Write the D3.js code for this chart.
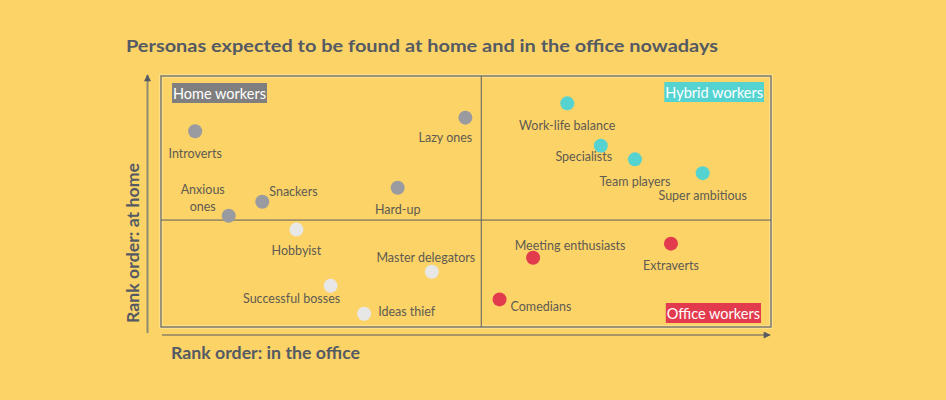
<!DOCTYPE html>
<html>
<head>
<meta charset="utf-8">
<script src="https://cdn.jsdelivr.net/npm/d3@7"></script>
<style>
  body { margin: 0; background: #fcd367; }
  text { font-family: "Segoe UI", Lato, "Open Sans", sans-serif; }
</style>
</head>
<body>
<div id="chart"></div>
<script>
"use strict"

/* DATA
 */
const homeWorkers = [
    {name: "Introverts", x: 5.6, y: 78.0},
    {name: "Lazy ones", x: 49.9, y: 83.4},
    {name: "Anxious ones", x: 11.1, y: 44.3},
    {name: "Snackers", x: 16.6, y: 49.9},
    {name: "Hard-up", x: 38.8, y: 55.5}
];
const hybridWorkers = [
    {name: "Work-life balance", x: 66.6, y: 89.1},
    {name: "Specialists", x: 72.1, y: 72.2},
    {name: "Team players", x: 77.7, y: 66.8},
    {name: "Super ambitious", x: 88.8, y: 61.3}
];
const lowerLeft = [
    {name: "Hobbyist", x: 22.2, y: 38.8},
    {name: "Master delegators", x: 44.4, y: 22.0},
    {name: "Successful bosses", x: 27.8, y: 16.4},
    {name: "Ideas thief", x: 33.3, y: 5.3}
];
const officeWorkers = [
    {name: "Meeting enthusiasts", x: 61.0, y: 27.6},
    {name: "Extraverts", x: 83.6, y: 33.2},
    {name: "Comedians", x: 55.5, y: 11.0}
];
const xDivide = 52.5, yDivide = 42.6;
const quadrantTitles = ["Home workers", "Hybrid workers", "Office workers"];

/* LAYOUT
 */
const W = 946, H = 400;
const box = {left: 161, right: 771, top: 76, bottom: 327};

// label placement relative to the dot: [anchor, dx, dy]
const labelPos = {
    "Introverts": ["middle", 0, 22],
    "Lazy ones": ["middle", -20, 20],
    "Anxious ones": ["middle", -26, -26],
    "Snackers": ["start", 7, -10],
    "Hard-up": ["middle", 0, 21.5],
    "Work-life balance": ["middle", 0, 22],
    "Specialists": ["middle", -17, 11],
    "Team players": ["middle", 0, 22],
    "Super ambitious": ["middle", 0, 22],
    "Hobbyist": ["middle", 0, 21],
    "Master delegators": ["middle", -6, -14],
    "Successful bosses": ["middle", -39, 13],
    "Ideas thief": ["start", 14, -2],
    "Meeting enthusiasts": ["middle", 37, -12],
    "Extraverts": ["middle", 0, 22],
    "Comedians": ["start", 11, 7]
};

const svg = d3.select("#chart").append("svg")
    .attr("width", W).attr("height", H)
    .style("display", "block");

svg.append("rect").attr("width", W).attr("height", H).attr("fill", "#fcd367");

const x = d3.scaleLinear().domain([0, 100]).range([box.left, box.right]);
const y = d3.scaleLinear().domain([0, 100]).range([box.bottom, box.top]);

/* TITLE
 */
svg.append("text")
    .attr("x", 126).attr("y", 45)
    .attr("dominant-baseline", "central")
    .attr("font-size", 17.5).attr("font-weight", "bold")
    .attr("fill", "#545a64")
    .attr("textLength", 592).attr("lengthAdjust", "spacingAndGlyphs")
    .text("Personas expected to be found at home and in the office nowadays");

/* AXES
 */
const defs = svg.append("defs");
defs.append("marker")
    .attr("id", "arrow")
    .attr("viewBox", "0 0 10 10")
    .attr("refX", 9).attr("refY", 5)
    .attr("markerWidth", 9).attr("markerHeight", 7)
    .attr("markerUnits", "userSpaceOnUse")
    .attr("orient", "auto")
  .append("path")
    .attr("d", "M0,0 L10,5 L0,10 z")
    .attr("fill", "#555a63");

svg.append("line")
    .attr("x1", x(0) - 13.5).attr("x2", x(0) - 13.5)
    .attr("y1", y(0) + 6).attr("y2", y(100) - 1)
    .attr("stroke", "#8f8a72").attr("stroke-width", 2)
    .attr("marker-end", "url(#arrow)");

svg.append("line")
    .attr("x1", x(0) + 1).attr("x2", x(100) - 1)
    .attr("y1", y(0) + 8).attr("y2", y(0) + 8)
    .attr("stroke", "#555a63").attr("stroke-width", 1.2)
    .attr("marker-end", "url(#arrow)");

svg.append("text")
    .attr("x", 171).attr("y", y(0) + 25)
    .attr("dominant-baseline", "central")
    .attr("font-size", 17.5).attr("font-weight", "bold")
    .attr("fill", "#545a64")
    .attr("textLength", 189).attr("lengthAdjust", "spacingAndGlyphs")
    .text("Rank order: in the office");

svg.append("text")
    .attr("transform", "translate(132,243) rotate(-90)")
    .attr("text-anchor", "middle")
    .attr("dominant-baseline", "central")
    .attr("font-size", 17.5).attr("font-weight", "bold")
    .attr("fill", "#545a64")
    .attr("textLength", 160).attr("lengthAdjust", "spacingAndGlyphs")
    .text("Rank order: at home");

/* QUADRANT FRAME
 */
svg.append("rect")
    .attr("x", x(0)).attr("y", y(100))
    .attr("width", x(100) - x(0)).attr("height", y(0) - y(100))
    .attr("fill", "none")
    .attr("stroke", "#fbe089").attr("stroke-width", 4);
svg.append("rect")
    .attr("x", x(0)).attr("y", y(100))
    .attr("width", x(100) - x(0)).attr("height", y(0) - y(100))
    .attr("fill", "none")
    .attr("stroke", "#7d7a70").attr("stroke-width", 1.5);

svg.append("line")
    .attr("x1", x(xDivide)).attr("x2", x(xDivide))
    .attr("y1", y(0)).attr("y2", y(100))
    .attr("stroke", "#5a5d63").attr("stroke-width", 1);
svg.append("line")
    .attr("x1", x(0)).attr("x2", x(100))
    .attr("y1", y(yDivide)).attr("y2", y(yDivide))
    .attr("stroke", "#5a5d63").attr("stroke-width", 1);

/* POINTS
 */
const groups = [
    {points: homeWorkers, color: "#999ba1"},
    {points: hybridWorkers, color: "#54d3d1"},
    {points: lowerLeft, color: "#e7e7e8"},
    {points: officeWorkers, color: "#e23b4e"}
];

groups.forEach((g) => {
    const node = svg.append("g").selectAll("g")
        .data(g.points)
        .enter().append("g")
        .attr("transform", (d) => `translate(${x(d.x)},${y(d.y)})`);

    node.append("circle")
        .attr("r", 7)
        .attr("fill", g.color);

    node.each(function(d) {
        const p = labelPos[d.name];
        const lines = d.name == "Anxious ones" ? ["Anxious", "ones"] : [d.name];
        lines.forEach((line, i) => {
            d3.select(this).append("text")
                .attr("x", p[1]).attr("y", p[2] + i * 16.5)
                .attr("text-anchor", p[0])
                .attr("dominant-baseline", "central")
                .attr("font-size", 12.5)
                .attr("fill", "#5e5b52")
                .text(line);
        });
    });
});

/* QUADRANT TITLES
 */
const titleBoxes = [
    {text: quadrantTitles[0], color: "#7f7f7f", x: x(0) + 12, y: y(100) + 7, anchor: "start"},
    {text: quadrantTitles[1], color: "#54d3d1", x: x(100) - 8, y: y(100) + 6, anchor: "end"},
    {text: quadrantTitles[2], color: "#e23b4e", x: x(100) - 11, y: y(0) - 24, anchor: "end"}
];

titleBoxes.forEach((t) => {
    const g = svg.append("g");
    const label = g.append("text")
        .attr("y", t.y + 10)
        .attr("dominant-baseline", "central")
        .attr("font-size", 14.5)
        .attr("fill", "#ffffff")
        .text(t.text);
    const w = label.node().getComputedTextLength();
    const left = t.anchor == "start" ? t.x : t.x - w;
    label.attr("x", left);
    g.insert("rect", "text")
        .attr("x", left - 1).attr("y", t.y)
        .attr("width", w + 2).attr("height", 20)
        .attr("fill", t.color);
});
</script>
</body>
</html>
